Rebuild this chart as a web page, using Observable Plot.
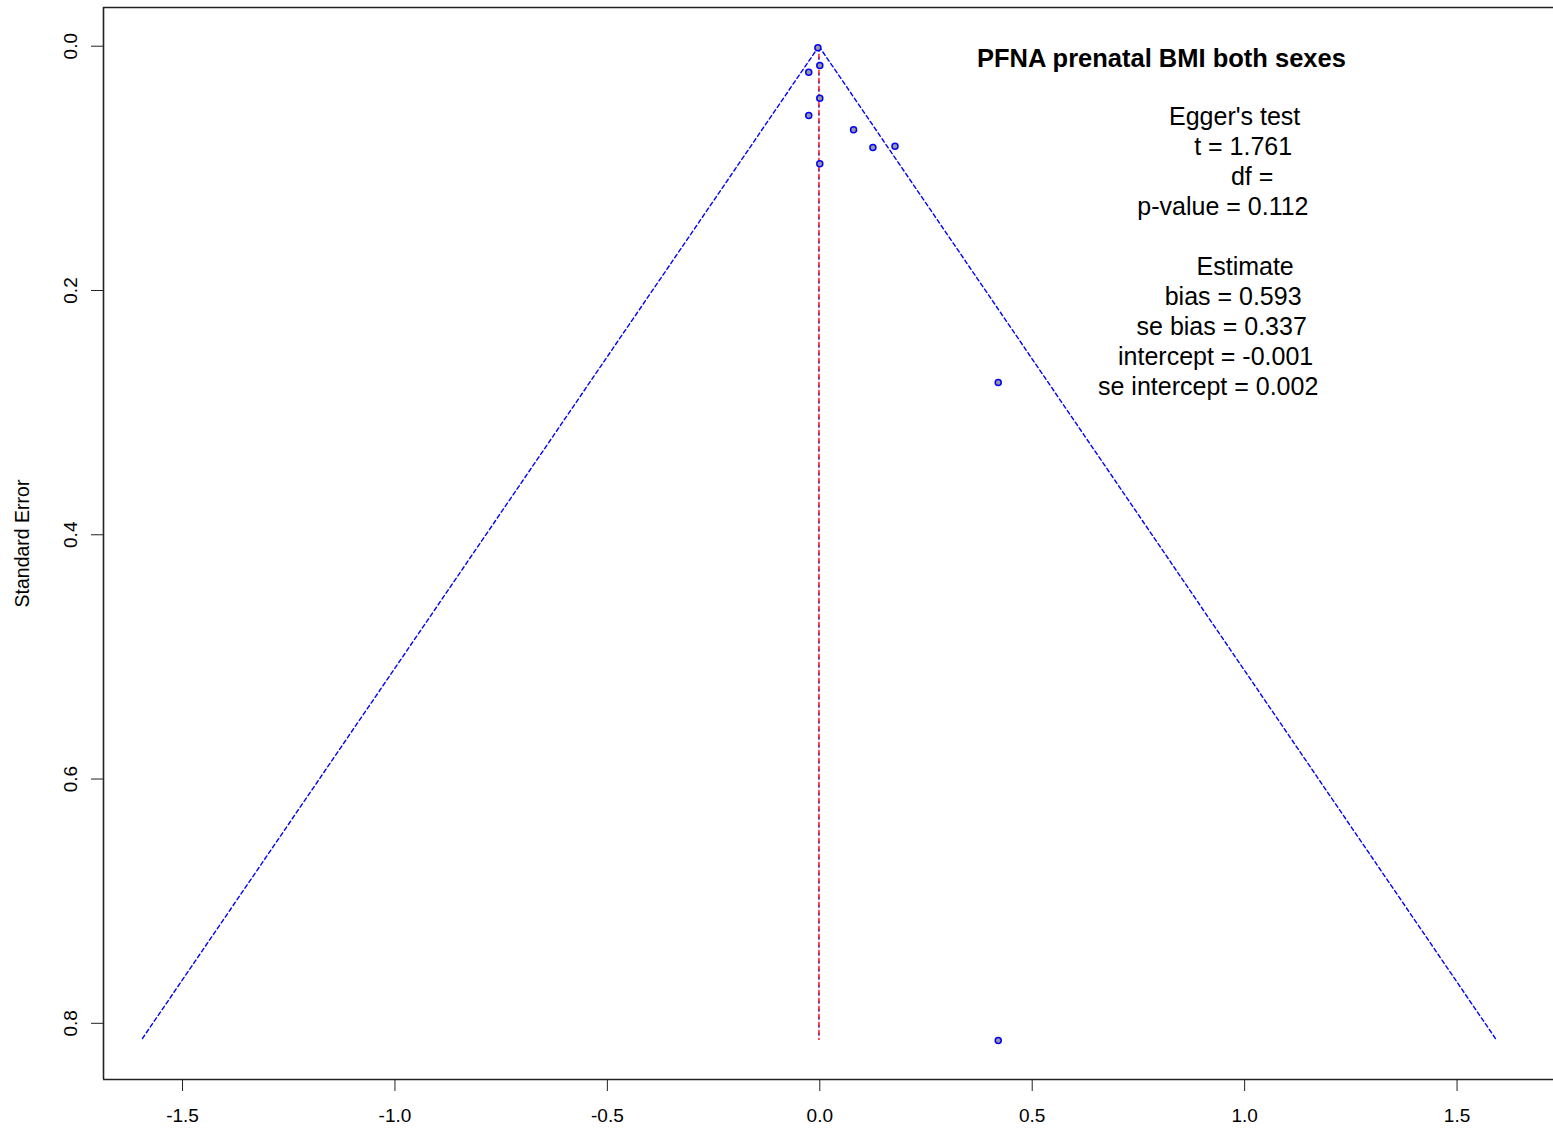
<!DOCTYPE html>
<html><head><meta charset="utf-8">
<script src="https://cdn.jsdelivr.net/npm/d3@7"></script>
<script src="https://cdn.jsdelivr.net/npm/@observablehq/plot@0.6"></script>
<style>body{margin:0;background:#fff} svg{display:block}</style>
</head><body><div id="chart"></div>
<script>
// ---- data ----
const studyEstimate = [-0.0045, 0.0, -0.026, 0.0, -0.026, 0.0795, 0.125, 0.177, 0.0, 0.420, 0.420];
const studySE       = [0.0013, 0.0158, 0.0213, 0.0426, 0.0567, 0.0684, 0.0829, 0.0819, 0.0963, 0.2753, 0.814];
const pooledEstimate = -0.002;
const funnelSE = [0, 0.814];
const xTicks = [-1.5, -1.0, -0.5, 0.0, 0.5, 1.0, 1.5];
const yTicks = [0.0, 0.2, 0.4, 0.6, 0.8];
const titleText = "PFNA prenatal BMI both sexes";
const yLabel = "Standard Error";
const eggerLines = ["Egger's test", "t = 1.761", "df = ", "p-value = 0.112", "", "Estimate", "bias = 0.593", "se bias = 0.337", "intercept = -0.001", "se intercept = 0.002"];

// ---- layout / annotation placement (data units) ----
const xDomain = [-1.686, 1.727];
const yDomain = [-0.0317, 0.846];
const eggerX = [0.9765, 0.9965, 1.0259, 0.9489, null, 1.0012, 0.9729, 0.9459, 0.9317, 0.9141];
const eggerY0 = 0.0649, eggerStep = 0.02456;

const points = studyEstimate.map((x, i) => ({x, se: studySE[i]}));
const z = 1.96;
const leftEdge = funnelSE.map(se => ({x: pooledEstimate - z * se, se}));
const rightEdge = funnelSE.map(se => ({x: pooledEstimate + z * se, se}));
const notes = eggerLines.map((t, i) => ({t, x: eggerX[i], y: eggerY0 + i * eggerStep})).filter(d => d.t !== "");

const font = "'Liberation Sans', Arial, sans-serif";

const chart = Plot.plot({
  width: 1553,
  height: 1129,
  marginLeft: 103,
  marginRight: 0,
  marginTop: 7,
  marginBottom: 50,
  style: {fontFamily: font, color: "#000", background: "#fff", overflow: "visible"},
  x: {domain: xDomain},
  y: {domain: yDomain, reverse: true},
  marks: [
    // box
    Plot.ruleY([yDomain[0], yDomain[1]], {stroke: "#222", strokeWidth: 1.6}),
    Plot.ruleX([xDomain[0]], {stroke: "#222", strokeWidth: 1.6}),
    // funnel
    Plot.line(leftEdge, {x: "x", y: "se", stroke: "#0000ff", strokeWidth: 1.4, strokeDasharray: "4,3"}),
    Plot.line(rightEdge, {x: "x", y: "se", stroke: "#0000ff", strokeWidth: 1.4, strokeDasharray: "4,3"}),
    Plot.ruleX([pooledEstimate], {y1: funnelSE[0], y2: funnelSE[1], stroke: "#0000ff", strokeWidth: 1.3, strokeDasharray: "3,5", strokeDashoffset: 5}),
    Plot.ruleX([pooledEstimate], {y1: funnelSE[0], y2: funnelSE[1], stroke: "#ff0000", strokeWidth: 1.3, strokeDasharray: "5,3"}),
    // studies
    Plot.dot(points, {x: "x", y: "se", r: 3, fill: "#9a9a9a", stroke: "#0000ff", strokeWidth: 1.5}),
    // axes
    Plot.axisX({ticks: xTicks, tickSize: 12, tickPadding: 17, tickFormat: d => d.toFixed(1), label: null, fontSize: 19, stroke: "#222"}),
    Plot.axisY({ticks: yTicks, tickSize: 12, tickPadding: 15, tickRotate: -90, tickFormat: d => d.toFixed(1), label: null, fontSize: 19, stroke: "#222"}),
    Plot.text([yLabel], {frameAnchor: "left", dx: -75, rotate: -90, lineAnchor: "bottom", textAnchor: "middle", fontSize: 19.5, fill: "#000"}),
    // title and Egger's test text
    Plot.text([titleText], {x: () => 0.8042, y: () => 0.01662, lineAnchor: "bottom", textAnchor: "middle", fontSize: 25.5, fontWeight: "bold", fill: "#000"}),
    Plot.text(notes, {x: "x", y: "y", text: "t", lineAnchor: "bottom", textAnchor: "middle", fontSize: 25, fill: "#000"})
  ]
});
document.getElementById("chart").appendChild(chart);
</script>
</body></html>
